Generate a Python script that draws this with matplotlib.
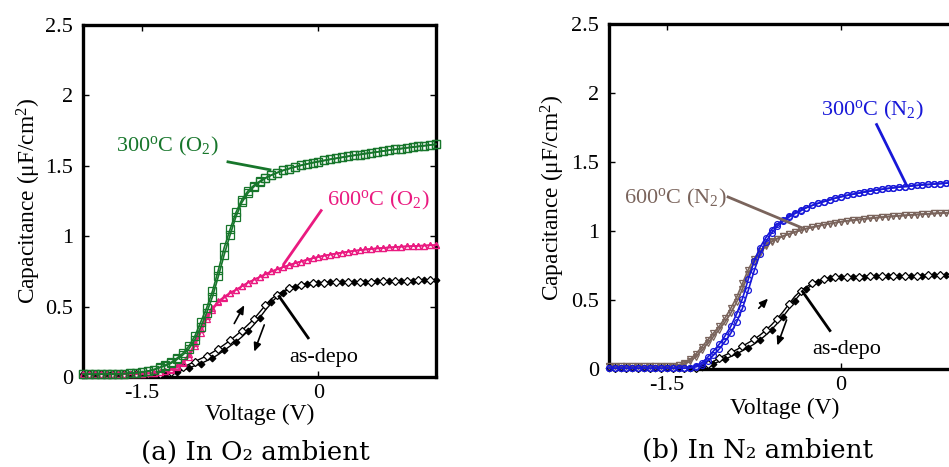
import numpy as np
import matplotlib
matplotlib.use("Agg")
import matplotlib.pyplot as plt

plt.rcParams['font.family'] = ['Liberation Serif', 'DejaVu Serif']
plt.rcParams['mathtext.fontset'] = 'custom'
plt.rcParams['mathtext.rm'] = 'Liberation Serif'
plt.rcParams['mathtext.it'] = 'Liberation Serif:italic'

# ---------------- data ----------------
voltage = np.round(np.linspace(-2.0, 1.0, 61), 2)

o2_300_up = [0.020, 0.020, 0.020, 0.020, 0.021, 0.021, 0.022, 0.024, 0.027, 0.030,
             0.035, 0.042, 0.052, 0.068, 0.085, 0.105, 0.135, 0.170, 0.220, 0.290,
             0.390, 0.490, 0.610, 0.760, 0.920, 1.050, 1.170, 1.260, 1.320, 1.360,
             1.390, 1.415, 1.435, 1.452, 1.468, 1.480, 1.492, 1.503, 1.513, 1.522,
             1.530, 1.538, 1.546, 1.553, 1.560, 1.567, 1.574, 1.580, 1.587, 1.593,
             1.599, 1.605, 1.611, 1.617, 1.622, 1.628, 1.633, 1.638, 1.643, 1.648, 1.653]
o2_300_dn = [0.020, 0.020, 0.020, 0.020, 0.021, 0.021, 0.022, 0.024, 0.027, 0.030,
             0.035, 0.042, 0.052, 0.066, 0.080, 0.098, 0.125, 0.158, 0.200, 0.265,
             0.355, 0.455, 0.570, 0.715, 0.870, 1.010, 1.140, 1.240, 1.305, 1.350,
             1.383, 1.412, 1.433, 1.451, 1.467, 1.480, 1.492, 1.503, 1.513, 1.522,
             1.530, 1.538, 1.546, 1.553, 1.560, 1.567, 1.574, 1.580, 1.587, 1.593,
             1.599, 1.605, 1.611, 1.617, 1.622, 1.628, 1.633, 1.638, 1.643, 1.648, 1.653]

o2_600_up = [0.020, 0.020, 0.020, 0.020, 0.020, 0.020, 0.020, 0.020, 0.020, 0.020,
             0.022, 0.025, 0.030, 0.035, 0.042, 0.055, 0.075, 0.110, 0.160, 0.240,
             0.340, 0.430, 0.490, 0.540, 0.570, 0.600, 0.620, 0.645, 0.670, 0.690,
             0.710, 0.730, 0.750, 0.765, 0.780, 0.795, 0.808, 0.820, 0.832, 0.843,
             0.853, 0.862, 0.870, 0.877, 0.884, 0.890, 0.896, 0.901, 0.906, 0.910,
             0.914, 0.917, 0.920, 0.923, 0.926, 0.928, 0.930, 0.932, 0.934, 0.936, 0.937]
o2_600_dn = [0.020, 0.020, 0.020, 0.020, 0.020, 0.020, 0.020, 0.020, 0.020, 0.020,
             0.022, 0.025, 0.030, 0.035, 0.040, 0.050, 0.068, 0.098, 0.145, 0.220,
             0.315, 0.410, 0.478, 0.530, 0.563, 0.595, 0.618, 0.644, 0.669, 0.690,
             0.710, 0.730, 0.750, 0.765, 0.780, 0.795, 0.808, 0.820, 0.832, 0.843,
             0.853, 0.862, 0.870, 0.877, 0.884, 0.890, 0.896, 0.901, 0.906, 0.910,
             0.914, 0.917, 0.920, 0.923, 0.926, 0.928, 0.930, 0.932, 0.934, 0.936, 0.937]

o2_dep_up = [0.020, 0.020, 0.020, 0.020, 0.020, 0.020, 0.020, 0.020, 0.020, 0.020,
             0.020, 0.020, 0.020, 0.021, 0.025, 0.035, 0.050, 0.070, 0.090, 0.110,
             0.130, 0.150, 0.175, 0.200, 0.230, 0.260, 0.295, 0.330, 0.370, 0.410,
             0.460, 0.510, 0.555, 0.585, 0.610, 0.630, 0.645, 0.655, 0.662, 0.667,
             0.670, 0.671, 0.672, 0.673, 0.674, 0.675, 0.676, 0.677, 0.677, 0.678,
             0.679, 0.680, 0.681, 0.682, 0.683, 0.684, 0.685, 0.686, 0.687, 0.688, 0.690]
o2_dep_dn = [0.020, 0.020, 0.020, 0.020, 0.020, 0.020, 0.020, 0.020, 0.020, 0.020,
             0.020, 0.020, 0.020, 0.020, 0.020, 0.025, 0.035, 0.050, 0.065, 0.080,
             0.095, 0.115, 0.135, 0.160, 0.190, 0.220, 0.250, 0.285, 0.325, 0.370,
             0.420, 0.475, 0.530, 0.570, 0.600, 0.625, 0.642, 0.655, 0.662, 0.667,
             0.670, 0.671, 0.672, 0.673, 0.674, 0.675, 0.676, 0.677, 0.677, 0.678,
             0.679, 0.680, 0.681, 0.682, 0.683, 0.684, 0.685, 0.686, 0.687, 0.688, 0.690]

n2_300_up = [0.005, 0.005, 0.005, 0.005, 0.005, 0.005, 0.005, 0.005, 0.005, 0.005,
             0.005, 0.005, 0.005, 0.006, 0.010, 0.025, 0.045, 0.085, 0.130, 0.180,
             0.240, 0.310, 0.400, 0.510, 0.650, 0.780, 0.880, 0.950, 1.010, 1.050,
             1.080, 1.110, 1.130, 1.150, 1.170, 1.185, 1.200, 1.213, 1.225, 1.238,
             1.248, 1.258, 1.266, 1.274, 1.282, 1.289, 1.296, 1.302, 1.308, 1.313,
             1.318, 1.322, 1.326, 1.330, 1.334, 1.337, 1.340, 1.343, 1.346, 1.349, 1.352]
n2_300_dn = [0.005, 0.005, 0.005, 0.005, 0.005, 0.005, 0.005, 0.005, 0.005, 0.005,
             0.005, 0.005, 0.005, 0.005, 0.007, 0.015, 0.030, 0.060, 0.100, 0.145,
             0.200, 0.260, 0.340, 0.440, 0.570, 0.710, 0.830, 0.920, 0.985, 1.035,
             1.070, 1.100, 1.125, 1.145, 1.168, 1.185, 1.200, 1.213, 1.225, 1.238,
             1.248, 1.258, 1.266, 1.274, 1.282, 1.289, 1.296, 1.302, 1.308, 1.313,
             1.318, 1.322, 1.326, 1.330, 1.334, 1.337, 1.340, 1.343, 1.346, 1.349, 1.352]

n2_600_up = [0.020, 0.020, 0.020, 0.020, 0.020, 0.020, 0.020, 0.020, 0.020, 0.020,
             0.022, 0.025, 0.030, 0.045, 0.070, 0.110, 0.160, 0.210, 0.260, 0.310,
             0.370, 0.440, 0.520, 0.620, 0.720, 0.800, 0.855, 0.895, 0.925, 0.945,
             0.963, 0.978, 0.992, 1.005, 1.017, 1.027, 1.036, 1.045, 1.053, 1.060,
             1.067, 1.073, 1.078, 1.083, 1.088, 1.092, 1.096, 1.100, 1.104, 1.107,
             1.110, 1.113, 1.116, 1.119, 1.122, 1.124, 1.127, 1.129, 1.131, 1.133, 1.135]
n2_600_dn = [0.020, 0.020, 0.020, 0.020, 0.020, 0.020, 0.020, 0.020, 0.020, 0.020,
             0.022, 0.025, 0.028, 0.035, 0.055, 0.090, 0.135, 0.185, 0.235, 0.285,
             0.340, 0.405, 0.485, 0.580, 0.685, 0.775, 0.840, 0.888, 0.922, 0.944,
             0.963, 0.978, 0.992, 1.005, 1.017, 1.027, 1.036, 1.045, 1.053, 1.060,
             1.067, 1.073, 1.078, 1.083, 1.088, 1.092, 1.096, 1.100, 1.104, 1.107,
             1.110, 1.113, 1.116, 1.119, 1.122, 1.124, 1.127, 1.129, 1.131, 1.133, 1.135]

n2_dep_up = [0.005, 0.005, 0.005, 0.005, 0.005, 0.005, 0.005, 0.005, 0.005, 0.005,
             0.005, 0.005, 0.005, 0.005, 0.006, 0.010, 0.020, 0.035, 0.055, 0.080,
             0.100, 0.120, 0.140, 0.165, 0.190, 0.215, 0.245, 0.280, 0.320, 0.365,
             0.415, 0.470, 0.525, 0.565, 0.595, 0.620, 0.638, 0.650, 0.658, 0.665,
             0.668, 0.669, 0.669, 0.670, 0.670, 0.671, 0.671, 0.672, 0.672, 0.673,
             0.673, 0.674, 0.675, 0.676, 0.677, 0.678, 0.679, 0.680, 0.681, 0.682, 0.683]
n2_dep_dn = [0.005, 0.005, 0.005, 0.005, 0.005, 0.005, 0.005, 0.005, 0.005, 0.005,
             0.005, 0.005, 0.005, 0.005, 0.005, 0.005, 0.012, 0.022, 0.038, 0.055,
             0.072, 0.090, 0.110, 0.132, 0.155, 0.180, 0.210, 0.245, 0.285, 0.330,
             0.380, 0.435, 0.495, 0.545, 0.580, 0.608, 0.630, 0.650, 0.658, 0.665,
             0.668, 0.669, 0.669, 0.670, 0.670, 0.671, 0.671, 0.672, 0.672, 0.673,
             0.673, 0.674, 0.675, 0.676, 0.677, 0.678, 0.679, 0.680, 0.681, 0.682, 0.683]

x_ticks = [-1.5, 0]
x_ticklabels = ["-1.5", "0"]
y_ticks = [0, 0.5, 1, 1.5, 2, 2.5]
y_ticklabels = ["0", "0.5", "1", "1.5", "2", "2.5"]

GREEN = '#17762b'
PINK = '#ea1a80'
BLUE = '#1818d8'
BROWN = '#7a645c'
BLACK = '#000000'

FS = 16
FS_LABEL = 16.8

fig = plt.figure(figsize=(9.49, 4.67), dpi=100)
axA = fig.add_axes([0.0875, 0.1927, 0.372, 0.7537])
axB = fig.add_axes([0.6417, 0.2099, 0.367, 0.7388])


def style(ax):
    ax.set_xlim(-2.0, 1.0)
    ax.set_ylim(0, 2.5)
    ax.set_xticks(x_ticks)
    ax.set_xticklabels(x_ticklabels)
    ax.set_yticks(y_ticks)
    ax.set_yticklabels(y_ticklabels)
    for s in ax.spines.values():
        s.set_linewidth(2.4)
    ax.tick_params(direction='in', top=True, right=True, length=4, width=1,
                   labelsize=FS)
    ax.tick_params(axis='y', pad=7)
    ax.tick_params(axis='x', pad=5)
    ax.set_xlabel("Voltage (V)", fontsize=FS_LABEL)
    ax.set_ylabel("Capacitance (\u03bcF/cm$^2$)", fontsize=FS_LABEL)


def curve(ax, y, color, marker, ms, mfc='none', mew=0.9, lw=1.2, every=None):
    ax.plot(voltage, y, color=color, lw=lw, marker=marker, ms=ms,
            mfc=mfc, mec=color, mew=mew, clip_on=False, zorder=3,
            markevery=every)


def arrow(ax, x0, y0, x1, y1):
    ax.annotate("", xy=(x1, y1), xytext=(x0, y0),
                arrowprops=dict(arrowstyle='-|>,head_length=0.5,head_width=0.22',
                                color='black', lw=1.2, shrinkA=0, shrinkB=0))


def leader(ax, x0, y0, x1, y1, color):
    ax.plot([x0, x1], [y0, y1], color=color, lw=2.0, solid_capstyle='butt', zorder=4)


# ---- panel (a) ----
style(axA)
curve(axA, o2_dep_dn, BLACK, 'D', 3.4, mfc=BLACK, lw=1.0, every=(0, 2))
curve(axA, o2_dep_up, BLACK, 'D', 3.6, mfc='white', lw=1.0, every=(1, 2))
curve(axA, o2_600_dn, PINK, '^', 5)
curve(axA, o2_600_up, PINK, '^', 5)
curve(axA, o2_300_dn, GREEN, 's', 5.2)
curve(axA, o2_300_up, GREEN, 's', 5.2)
axA.xaxis.set_label_coords(0.501, -0.077)
axA.yaxis.set_label_coords(-0.112, 0.5)

axA.text(-1.72, 1.60, "300$^{\\rm o}$C (O$_2$)", color=GREEN, fontsize=FS,
         ha='left', va='baseline')
leader(axA, -0.78, 1.53, -0.40, 1.47, GREEN)
axA.text(0.077, 1.217, "600$^{\\rm o}$C (O$_2$)", color=PINK, fontsize=FS,
         ha='left', va='baseline')
leader(axA, 0.03, 1.19, -0.30, 0.795, PINK)
axA.text(-0.247, 0.109, "as-depo", color=BLACK, fontsize=FS, ha='left', va='baseline')
leader(axA, -0.34, 0.58, -0.08, 0.27, BLACK)
arrow(axA, -0.715, 0.38, -0.63, 0.51)
arrow(axA, -0.46, 0.37, -0.545, 0.18)

# ---- panel (b) ----
style(axB)
curve(axB, n2_dep_dn, BLACK, 'D', 3.4, mfc=BLACK, lw=1.0, every=(0, 2))
curve(axB, n2_dep_up, BLACK, 'D', 3.6, mfc='white', lw=1.0, every=(1, 2))
curve(axB, n2_600_dn, BROWN, 'v', 5)
curve(axB, n2_600_up, BROWN, 'v', 5)
curve(axB, n2_300_dn, BLUE, 'o', 4.2)
curve(axB, n2_300_up, BLUE, 'o', 4.2)
axB.xaxis.set_label_coords(0.505, -0.084)
axB.yaxis.set_label_coords(-0.121, 0.497)

axB.text(-0.173, 1.84, "300$^{\\rm o}$C (N$_2$)", color=BLUE, fontsize=FS,
         ha='left', va='baseline')
leader(axB, 0.30, 1.78, 0.57, 1.32, BLUE)
axB.text(-1.867, 1.196, "600$^{\\rm o}$C (N$_2$)", color=BROWN, fontsize=FS,
         ha='left', va='baseline')
leader(axB, -0.985, 1.25, -0.33, 1.02, BROWN)
axB.text(-0.25, 0.109, "as-depo", color=BLACK, fontsize=FS, ha='left', va='baseline')
leader(axB, -0.34, 0.57, -0.09, 0.27, BLACK)
arrow(axB, -0.71, 0.44, -0.63, 0.51)
arrow(axB, -0.47, 0.355, -0.55, 0.17)

# captions
fig.text(0.2687, 0.032, "(a) In O\u2082 ambient", ha='center', va='center',
         fontsize=18.8, family='DejaVu Serif')
fig.text(0.7987, 0.036, "(b) In N\u2082 ambient", ha='center', va='center',
         fontsize=18.8, family='DejaVu Serif')

fig.savefig("out.png", dpi=100)
